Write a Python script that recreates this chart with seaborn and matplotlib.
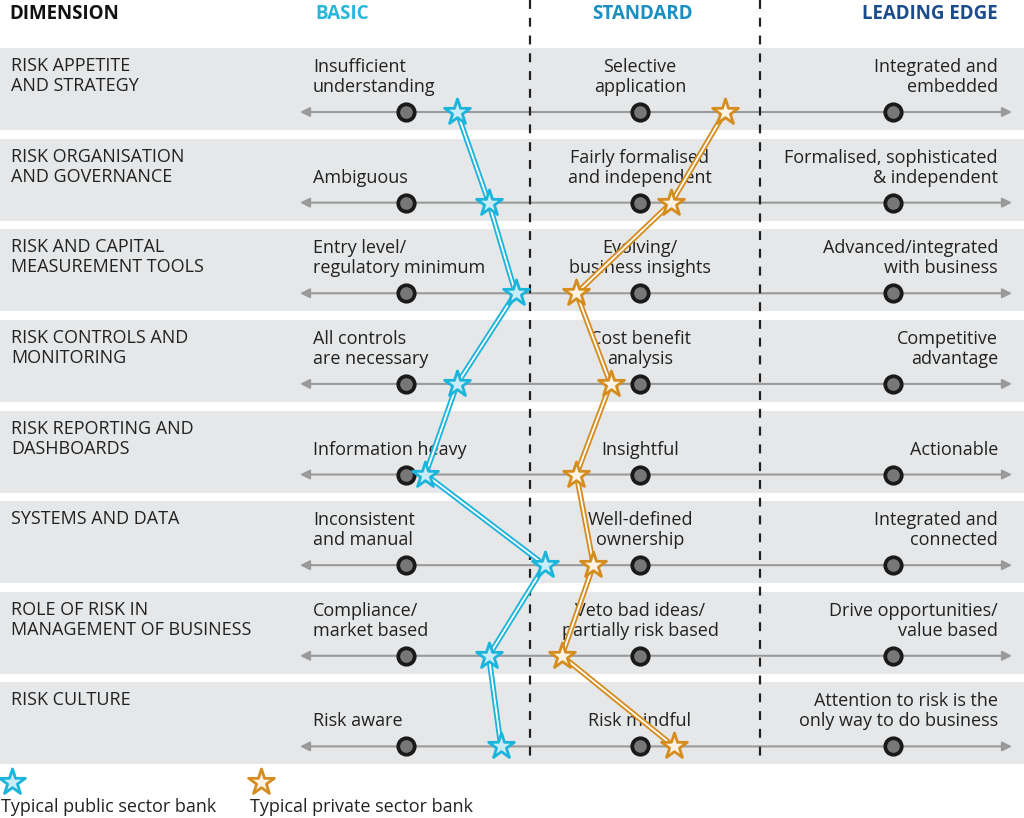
import numpy as np
import pandas as pd
import matplotlib.pyplot as plt
import seaborn as sns

# Data
dimensions = ["RISK APPETITE\nAND STRATEGY", "RISK ORGANISATION\nAND GOVERNANCE",
              "RISK AND CAPITAL\nMEASUREMENT TOOLS", "RISK CONTROLS AND\nMONITORING",
              "RISK REPORTING AND\nDASHBOARDS", "SYSTEMS AND DATA",
              "ROLE OF RISK IN\nMANAGEMENT OF BUSINESS", "RISK CULTURE"]
basic = ["Insufficient\nunderstanding", "Ambiguous", "Entry level/\nregulatory minimum",
         "All controls\nare necessary", "Information heavy", "Inconsistent\nand manual",
         "Compliance/\nmarket based", "Risk aware"]
standard = ["Selective\napplication", "Fairly formalised\nand independent",
            "Evolving/\nbusiness insights", "Cost benefit\nanalysis", "Insightful",
            "Well-defined\nownership", "Veto bad ideas/\npartially risk based", "Risk mindful"]
leading = ["Integrated and\nembedded", "Formalised, sophisticated\n& independent",
           "Advanced/integrated\nwith business", "Competitive\nadvantage", "Actionable",
           "Integrated and\nconnected", "Drive opportunities/\nvalue based",
           "Attention to risk is the\nonly way to do business"]
levels = ["BASIC", "STANDARD", "LEADING EDGE"]
level_values = [1.0, 1.96, 3.0]
# maturity scores (1 = basic, ~2 = standard, 3 = leading edge)
public_bank = [1.21, 1.34, 1.45, 1.21, 1.08, 1.57, 1.34, 1.39]
private_bank = [2.31, 2.09, 1.70, 1.84, 1.70, 1.77, 1.64, 2.10]

rows = np.arange(len(dimensions))
df = pd.DataFrame({"row": rows, "public": public_bank, "private": private_bank})

sns.set_theme(style="white")
plt.rcParams["font.family"] = ["Open Sans", "DejaVu Sans"]

fig = plt.figure(figsize=(10.24, 8.18), dpi=100)
ax = fig.add_axes([0, 0, 1, 1])
px = 2 / 487  # level units per pixel
ax.set_xlim(1 - 406 * px, 1 + 618 * px)
ax.set_ylim(7.79, -1.236)
ax.axis("off")

row_px = 1 / 90.6
band_col = "#e6e7e8"
txt = "#222222"
for r in rows:
    ax.axhspan(r + 18 * row_px, r - 64 * row_px, color=band_col, zorder=0, lw=0)
    # double-headed grey arrow
    ax.annotate("", xy=(1 - 106 * px, r), xytext=(1 + 606 * px, r),
                arrowprops=dict(arrowstyle="<|-|>", color="#9a9a9a", lw=1.5,
                                mutation_scale=14, shrinkA=0, shrinkB=0), zorder=1)
    ax.text(1 - 395 * px, r - 55 * row_px, dimensions[r], ha="left", va="top",
            fontsize=13, color=txt, linespacing=1.15)
    ax.text(1 - 93 * px, r - 20 * row_px, basic[r], ha="left", va="baseline",
            fontsize=13, color=txt, linespacing=1.15)
    ax.text(1 + 234 * px, r - 20 * row_px, standard[r], ha="center", va="baseline",
            fontsize=13, color=txt, linespacing=1.15)
    ax.text(1 + 592 * px, r - 20 * row_px, leading[r], ha="right", va="baseline",
            fontsize=13, color=txt, linespacing=1.15)

# level dots
dots = pd.DataFrame([(lv, r) for r in rows for lv in level_values], columns=["level", "row"])
sns.scatterplot(data=dots, x="level", y="row", s=140, color="#777777",
                edgecolor="#1a1a1a", linewidth=2.7, zorder=3, ax=ax, legend=False)

# dashed separators
for xs in [1 + 124 * px, 1 + 354 * px]:
    ax.plot([xs, xs], [-1.236, 7.0 + 18 * row_px], ls=(0, (4, 4)), color=txt, lw=1.6, zorder=2)

# headers
hy = -1.236 + 14 * row_px
ax.text(1 - 397 * px, hy, "DIMENSION", fontsize=13.5, fontweight="bold",
        color="#111111", ha="left", va="center")
ax.text(1 - 91 * px, hy, levels[0], fontsize=13.5, fontweight="bold",
        color="#29b6dd", ha="left", va="center")
ax.text(1 + 236 * px, hy, levels[1], fontsize=13.5, fontweight="bold",
        color="#1a8fc2", ha="center", va="center")
ax.text(1 + 592 * px, hy, levels[2], fontsize=13.5, fontweight="bold",
        color="#1b4d8c", ha="right", va="center")

pub_edge, pub_fill = "#1bb5dc", "#c9ecf7"
pri_edge, pri_fill = "#d48d1e", "#fdf3e4"
for col, edge in [("public", pub_edge), ("private", pri_edge)]:
    sns.lineplot(data=df, x=col, y="row", sort=False, orient="y", estimator=None,
                 color=edge, lw=4, ax=ax, zorder=4)
    sns.lineplot(data=df, x=col, y="row", sort=False, orient="y", estimator=None,
                 color="#ffffff", lw=1.3, ax=ax, zorder=5)
sns.scatterplot(data=df, x="public", y="row", marker="*", s=380, color=pub_fill,
                edgecolor=pub_edge, linewidth=2, zorder=6, ax=ax, legend=False)
sns.scatterplot(data=df, x="private", y="row", marker="*", s=380, color=pri_fill,
                edgecolor=pri_edge, linewidth=2, zorder=6, ax=ax, legend=False)

# legend
ly = -1.236 + 782 * row_px
ax.scatter([1 - 394 * px], [ly], marker="*", s=380, color=pub_fill, edgecolor=pub_edge,
           linewidth=2, zorder=6, clip_on=False)
ax.scatter([1 - 145 * px], [ly], marker="*", s=380, color=pri_fill, edgecolor=pri_edge,
           linewidth=2, zorder=6, clip_on=False)
ax.text(1 - 405 * px, -1.236 + 807 * row_px, "Typical public sector bank", fontsize=13,
        color=txt, ha="left", va="center")
ax.text(1 - 156 * px, -1.236 + 807 * row_px, "Typical private sector bank", fontsize=13,
        color=txt, ha="left", va="center")

ax.set_xlabel("")
ax.set_ylabel("")
fig.savefig("out.png", dpi=100)
